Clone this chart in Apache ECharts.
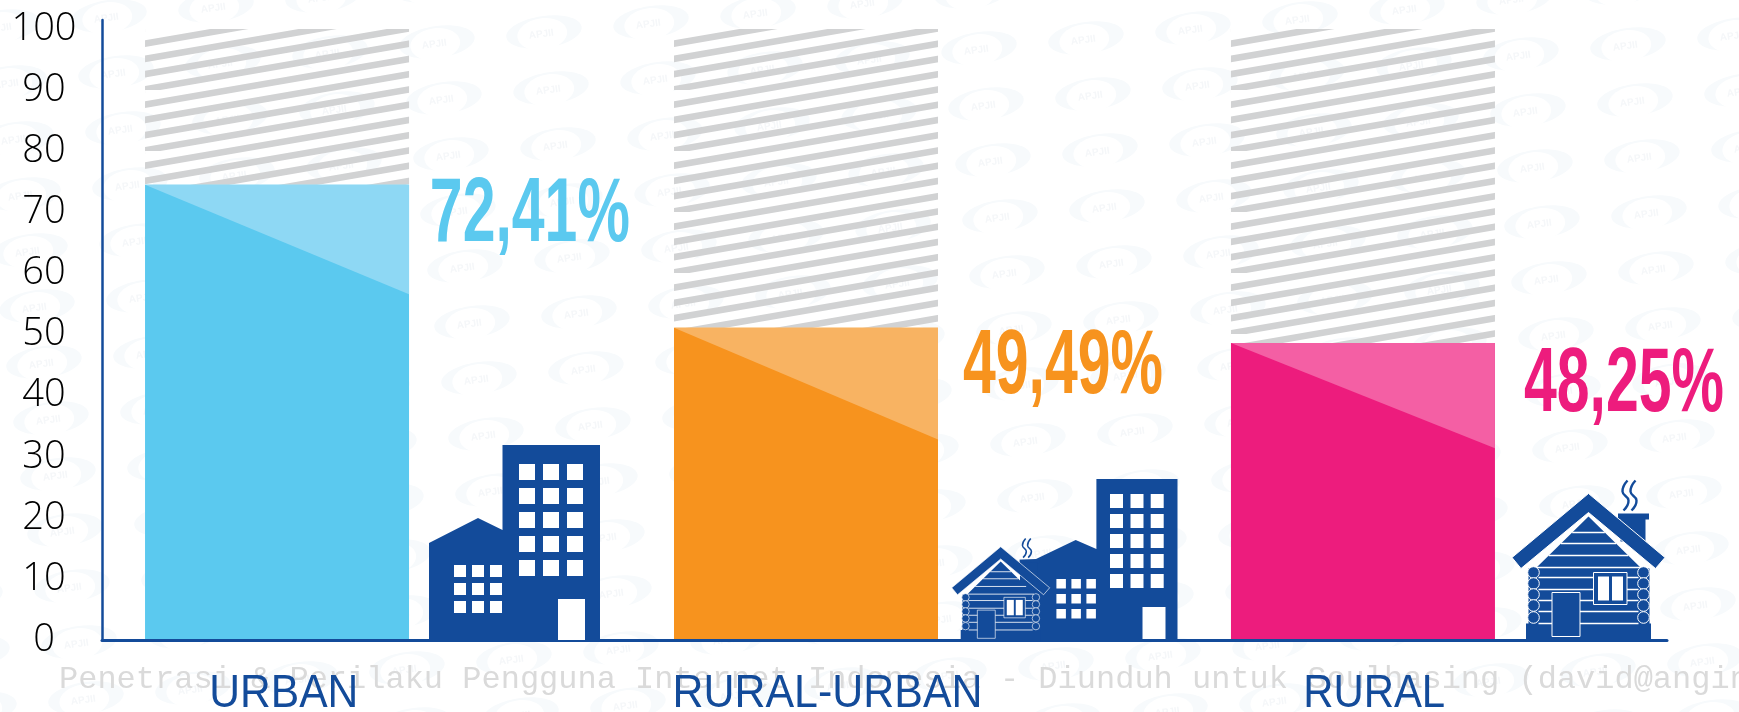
<!DOCTYPE html>
<html><head><meta charset="utf-8">
<style>html,body{margin:0;padding:0;background:#fff;overflow:hidden}#c{width:1739px;height:712px}</style>
<script src="https://cdn.jsdelivr.net/npm/echarts@6/dist/echarts.min.js"></script>
</head><body><div id="c"></div>
<script>
// ---- data ----
const categories = ['URBAN', 'RURAL-URBAN', 'RURAL'];
const percentLabels = ['72,41%', '49,49%', '48,25%'];
const barValues = [74.5, 51.1, 48.6];      // top of each coloured bar, in axis units as drawn
const shadeEnds = [56.6, 32.8, 31.4];      // where the light triangle ends on the bar's right edge
const hatchValues = [100, 100, 100];       // hatched remainder reaches 100
// ---- styles and layout ----
const barColors = ['#5bc9ef', '#f7931e', '#ed1c7d'];
const shadeColors = ['#8ed8f4', '#f8b362', '#f45fa4'];
const BLUE = '#134b9a';
const barOffsets = [-85.8, -78.5, -43.2];
const labelOffsets = [-79, -57, -32];
const labelWidths = [149, 310, 142];
const percentOffsets = [67, 78.5, 117.8];  // left of the % label from the category centre
const percentCentres = [211.5, 363, 381.5];
const BAR_W = 264;

const measure = document.createElement('canvas').getContext('2d');
function fitScale(text, font, width) { measure.font = font; return width / measure.measureText(text).width; }

const tile = document.createElement('canvas');
tile.width = 353; tile.height = 61;
(function () {
  const g = tile.getContext('2d');
  g.fillStyle = '#d1d2d3';
  const P = 61 / 4, T = 6.6;
  for (let k = 0; k < 9; k++) {
    const y0 = 14.6 + k * P;
    g.beginPath();
    g.moveTo(0, y0 - T / 2); g.lineTo(353, y0 - 61 - T / 2);
    g.lineTo(353, y0 - 61 + T / 2); g.lineTo(0, y0 + T / 2); g.closePath(); g.fill();
  }
})();

function rect(x, y, w, h, fill, stroke) {
  return { type: 'rect', shape: { x, y, width: w, height: h }, style: { fill, stroke: stroke || null, lineWidth: stroke ? 1 : 0 } };
}
function poly(points, fill, stroke) {
  return { type: 'polygon', shape: { points }, style: { fill, stroke: stroke || null, lineWidth: stroke ? 1 : 0 } };
}
function hline(x1, x2, y) {
  return { type: 'line', shape: { x1, y1: y, x2, y2: y }, style: { stroke: '#fff', lineWidth: 1.3 } };
}
function grid(xs, w, ys, h) {
  const out = [];
  ys.forEach(y => xs.forEach(x => out.push(rect(x, y, w, h, '#fff'))));
  return out;
}
function cabin(cx, base, s) {
  const c = [];
  c.push(rect(29.5, -128, 31, 6, BLUE), rect(32, -124, 25, 24, BLUE));
  c.push(poly([[0, -125], [53, -73], [61, -73], [61, -18], [62.5, -18], [62.5, 0], [-62.5, 0], [-62.5, -18], [-60, -18], [-60, -73], [-53, -73]], BLUE));
  [-109, -98, -86, -74].forEach(y => { const w = (125 + y) * 1.02; c.push(hline(-w, w, y)); });
  [-64, -52, -41, -30, -18].forEach(y => c.push(hline(-50, 50, y)));
  [-69, -58, -47, -36, -24].forEach(y => {
    [-55, 55].forEach(x => c.push({ type: 'circle', shape: { cx: x, cy: y, r: 5.8 }, style: { fill: BLUE, stroke: '#fff', lineWidth: 1 } }));
  });
  c.push(rect(5, -69, 33.5, 32, BLUE, '#fff'), rect(9.5, -65, 11, 24, '#fff'), rect(23.5, -65, 11, 24, '#fff'));
  c.push(rect(-36.5, -49, 28, 44, BLUE, '#fff'));
  c.push(poly([[0, -148], [76.5, -84], [67, -73], [0, -129], [-67.5, -73], [-76.5, -84]], BLUE, '#fff'));
  [[38, 43], [46, 50]].forEach(p => {
    c.push({ type: 'polyline', shape: { points: [[p[0] + 1, -161], [p[0] - 4, -150], [p[0] + 2, -141], [p[0] - 3, -131]], smooth: 0.5 },
      style: { stroke: BLUE, lineWidth: 2.4, fill: null } });
  });
  return { type: 'group', x: cx, y: base, scaleX: s, scaleY: s, children: c };
}
function urbanIcon() {
  return { type: 'group', children: [
    poly([[429, 543], [478, 518], [502.5, 530], [502.5, 445], [600, 445], [600, 642], [429, 642]], BLUE)
  ].concat(grid([519, 543, 567], 16, [464, 488, 512, 536, 560], 16), grid([454, 472, 490], 12, [565, 583, 601], 12), [rect(558, 599, 27, 41, '#fff')]) };
}
function mixedIcon() {
  return { type: 'group', children: [
    poly([[1020, 642], [1020, 560], [1036, 559], [1075.7, 540], [1096.4, 549], [1096.4, 479], [1177.5, 479], [1177.5, 642]], BLUE)
  ].concat(grid([1110, 1130.5, 1150.7], 13, [494, 514, 534, 554, 574], 14), grid([1056.4, 1071.4, 1086.4], 9.5, [579, 594, 609], 9.5), [rect(1142.5, 607, 23, 32, '#fff'), cabin(1000.7, 641.5, 0.64)]) };
}
function watermark() {
  const out = [];
  for (let i = -4; i < 24; i++) for (let j = -6; j < 20; j++) {
    const x = 1093 + (i - 10) * 107 + (j - 1) * 7;
    const y = 94 - (i - 10) * 10 + (j - 1) * 56;
    if (x < -50 || x > 1790 || y < -30 || y > 745) continue;
    out.push({ type: 'group', x, y, rotation: 0.14, children: [
      { type: 'ellipse', shape: { cx: 0, cy: 0, rx: 38, ry: 16 }, style: { fill: '#f7fafc' } },
      { type: 'ellipse', shape: { cx: -2, cy: 2, rx: 25, ry: 16 }, style: { fill: '#ffffff' } },
      { type: 'text', style: { text: 'APJII', x: -3, y: 2, align: 'center', verticalAlign: 'middle', fontSize: 10, fontWeight: 'bold', fontFamily: 'Liberation Sans', fill: '#f5f7f9' } }
    ] });
  }
  return out;
}

const chart = echarts.init(document.getElementById('c'), null, { renderer: 'canvas' });
chart.setOption({
  backgroundColor: '#fff',
  animation: false,
  grid: { left: 102, right: 72, top: 20, height: 620 },
  xAxis: { type: 'category', data: categories, z: 4,
    axisLine: { lineStyle: { color: BLUE, width: 3 } }, axisTick: { show: false }, axisLabel: { show: false } },
  yAxis: { type: 'value', min: 0, max: 101.47, interval: 10, z: 4, splitLine: { show: false },
    axisLine: { show: true, lineStyle: { color: BLUE, width: 2.5 } }, axisTick: { show: false },
    axisLabel: { margin: 58, align: 'center', fontFamily: 'Open Sans', fontWeight: 300, fontSize: 38, color: '#000', padding: [0, 0, 12, 0],
      formatter: v => v > 100 ? '' : String(v) } },
  series: [
    { type: 'custom', silent: true, z: 1, clip: false, data: [[0, 0]],
      renderItem: () => ({ type: 'group', children: watermark().concat([
        { type: 'text', style: { text: 'Penetrasi & Perilaku Pengguna Internet Indonesia - Diunduh untuk Soulhasing (david@angin',
          x: 59, y: 680, verticalAlign: 'middle', fontFamily: 'Liberation Mono', fontSize: 32, fill: '#dadada' } }
      ]) }) },
    { type: 'custom', silent: true, z: 2, clip: false,
      data: categories.map((c, i) => [i, barValues[i], shadeEnds[i], hatchValues[i]]),
      encode: { x: 0, y: 1 },
      renderItem: (params, api) => {
        const i = api.value(0);
        const p = api.coord([i, api.value(1)]);
        const zero = api.coord([i, 0]);
        const h = api.coord([i, api.value(3)]);
        const sh = api.coord([i, api.value(2)]);
        const left = p[0] + barOffsets[i] - BAR_W / 2;
        const right = left + BAR_W;
        const pctFont = "bold 90px 'Liberation Sans Narrow','Liberation Sans'";
        const catFont = "46px 'Liberation Sans Narrow','Liberation Sans'";
        return { type: 'group', children: [
          { type: 'group', x: left, y: h[1], children: [
            { type: 'rect', shape: { x: 0, y: 0, width: BAR_W, height: p[1] - h[1] }, style: { fill: { image: tile, repeat: 'repeat' } } }
          ] },
          { type: 'rect', shape: { x: left, y: p[1], width: BAR_W, height: zero[1] - p[1] + 1.5 }, style: { fill: barColors[i] } },
          { type: 'polygon', shape: { points: [[left, p[1]], [right, p[1]], [right, sh[1]]] }, style: { fill: shadeColors[i] } },
          { type: 'group', x: p[0] + percentOffsets[i], y: percentCentres[i] + 5, scaleX: fitScale(percentLabels[i], pctFont, 200), children: [
            { type: 'text', style: { text: percentLabels[i], x: 0, y: 0, verticalAlign: 'middle', font: pctFont, fill: barColors[i] } }
          ] },
          { type: 'group', x: p[0] + labelOffsets[i], y: 694, scaleX: fitScale(categories[i], catFont, labelWidths[i]), children: [
            { type: 'text', style: { text: categories[i], x: 0, y: 0, align: 'center', verticalAlign: 'middle', font: catFont, fill: BLUE } }
          ] }
        ] };
      } },
    { type: 'custom', silent: true, z: 6, clip: false, data: [[0, 0]],
      renderItem: () => ({ type: 'group', children: [urbanIcon(), mixedIcon(), cabin(1588.5, 641.5, 1)] }) }
  ]
});
</script></body></html>
